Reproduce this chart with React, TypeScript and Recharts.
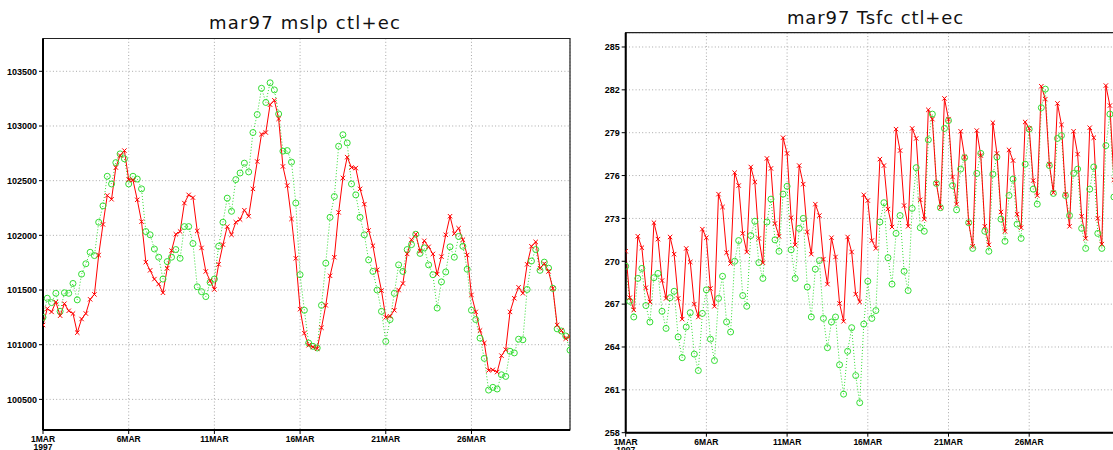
import React from 'react';
import { LineChart, Line, XAxis, YAxis, CartesianGrid, ReferenceArea } from 'recharts';

// 6-hourly steps, 1 MAR 00Z .. 31 MAR 18Z
const stepCount = 124;
const steps = Array.from({ length: stepCount }, (_, i) => i);

const dayTicks = [0, 20, 40, 60, 80, 100];
const dayTickLabels = ['1MAR', '6MAR', '11MAR', '16MAR', '21MAR', '26MAR'];
const yearLabel = '1997';

const titleLeft = 'mar97 mslp ctl+ec';
const titleRight = 'mar97 Tsfc ctl+ec';

const mslpTicks = [100500, 101000, 101500, 102000, 102500, 103000, 103500];
const mslpDomain = [100220, 103800];
const tsfcTicks = [258, 261, 264, 267, 270, 273, 276, 279, 282, 285];
const tsfcDomain = [258, 286];

const mslpCtl = [
  101180, 101330, 101300, 101390, 101265, 101375, 101310, 101285, 101110, 101235,
  101285, 101415, 101460, 101820, 102100, 102365, 102330, 102620, 102730, 102775,
  102510, 102505, 102325, 102125, 101755, 101680, 101600, 101555, 101475, 101700,
  101860, 102010, 102035, 102295, 102370, 102345, 102040, 101885, 101670, 101585,
  101505, 101735, 101915, 102080, 102005, 102120, 102145, 102230, 102175, 102425,
  102675, 102925, 102940, 103195, 103235, 103065, 102630, 102455, 102150, 101790,
  101325, 101105, 100995, 100980, 100965, 101155, 101360, 101630, 101800, 102210,
  102525, 102715, 102620, 102615, 102425, 102285, 102045, 101905, 101685, 101495,
  101250, 101260, 101315, 101500, 101560, 101830, 101960, 102010, 101855, 101950,
  101895, 101830, 101645, 101805, 102005, 102175, 102015, 102065, 101960, 101820,
  101455, 101300, 101130, 101015, 100765, 100770, 100750, 100900, 100955, 101300,
  101425, 101525, 101470, 101735, 101900, 101940, 101700, 101740, 101670, 101515,
  101180, 101130, 101055, 101075,
];

const mslpEc = [
  101250, 101425, 101385, 101470, 101305, 101475, 101470, 101560, 101410, 101645,
  101740, 101845, 101815, 102120, 102270, 102540, 102470, 102665, 102745, 102700,
  102470, 102540, 102515, 102425, 102035, 102005, 101875, 101800, 101600, 101760,
  101800, 101870, 101790, 102080, 102080, 101925, 101530, 101485, 101440, 101570,
  101600, 101900, 102120, 102340, 102220, 102510, 102570, 102660, 102580, 102940,
  103105, 103345, 103215, 103395, 103330, 103110, 102770, 102775, 102670, 102295,
  101640, 101315, 101015, 100985, 100970, 101360, 101745, 102165, 102355, 102815,
  102920, 102845, 102470, 102370, 102165, 102005, 101775, 101670, 101500, 101305,
  101030, 101230, 101470, 101730, 101670, 101870, 101915, 102010, 101835, 101885,
  101730, 101640, 101335, 101575, 101665, 101895, 101800, 101990, 101900, 101690,
  101315, 101230, 101060, 100875, 100585, 100610, 100595, 100725, 100710, 100940,
  100925, 101050, 101045, 101505, 101765, 101870, 101680, 101755, 101700, 101515,
  101145, 101125, 101080, 100950,
];

const tsfcCtl = [
  270.7, 267.45, 266.6, 271.75, 270.95, 268.15, 267.15, 272.7, 271.55, 268.65,
  267.4, 271.7, 270.5, 267.4, 265.95, 270.9, 269.95, 267.0, 266.1, 272.25,
  271.65, 268.1, 266.85, 274.7, 273.8, 270.6, 269.85, 276.2, 275.3, 271.95,
  270.65, 276.6, 275.55, 271.6, 269.9, 277.2, 276.5, 272.65, 271.75, 278.65,
  277.55, 273.05, 271.15, 276.7, 275.4, 272.05, 270.5, 274.0, 273.2, 270.15,
  268.4, 271.65, 270.3, 267.05, 265.8, 271.7, 270.65, 267.7, 267.15, 274.65,
  274.25, 271.45, 270.9, 277.15, 276.7, 273.65, 272.4, 279.25, 277.75, 273.9,
  272.45, 279.3, 278.6, 274.3, 272.95, 280.6, 279.95, 275.45, 273.75, 281.4,
  279.95, 275.9, 274.0, 279.1, 277.3, 272.7, 271.05, 279.15, 277.4, 272.45,
  271.15, 279.7, 277.55, 273.45, 272.1, 277.8, 277.05, 273.3, 272.35, 279.75,
  279.3, 275.65, 274.6, 282.25, 281.35, 276.8, 274.8, 281.05, 279.55, 274.7,
  272.45, 279.1, 277.5, 273.15, 271.6, 279.35, 278.65, 273.0, 271.2, 282.3,
  280.9, 275.7, 273.5, 278.0,
];

const tsfcEc = [
  269.65, 267.2, 266.1, 268.8, 269.5, 266.9, 265.75, 268.85, 269.15, 266.5,
  265.3, 267.45, 267.9, 264.7, 263.25, 265.4, 266.4, 263.5, 262.35, 266.35,
  268.0, 264.55, 263.05, 267.4, 268.95, 265.75, 265.05, 270.0, 271.45, 267.6,
  266.85, 271.8, 272.8, 269.9, 268.8, 272.75, 274.35, 271.5, 270.7, 274.7,
  275.25, 270.8, 268.8, 272.3, 273.0, 268.2, 266.1, 269.45, 270.05, 266.0,
  263.95, 265.75, 266.1, 262.75, 260.7, 263.7, 265.35, 262.0, 260.1, 265.6,
  268.6, 266.0, 266.55, 272.75, 274.1, 270.25, 268.4, 271.95, 273.2, 269.3,
  267.95, 273.7, 276.55, 272.35, 272.1, 278.5, 280.3, 275.45, 273.75, 279.3,
  279.85, 275.3, 273.6, 276.45, 277.25, 272.7, 270.9, 276.15, 277.55, 272.1,
  270.7, 276.1, 277.3, 272.95, 271.4, 274.6, 275.75, 272.6, 271.6, 276.8,
  279.25, 275.05, 274.0, 280.75, 282.05, 276.7, 274.75, 278.6, 278.8, 274.6,
  273.2, 276.15, 276.45, 272.3, 270.9, 275.05, 276.6, 271.95, 270.9, 278.1,
  280.3, 274.5, 273.0, 277.0,
];

const mslpData = steps.map((t, i) => ({ t, ctl: mslpCtl[i], ec: mslpEc[i] }));
const tsfcData = steps.map((t, i) => ({ t, ctl: tsfcCtl[i], ec: tsfcEc[i] }));

const RED = '#ff0000';
const GREEN = '#33dd33';
const GRID = '#a8a8a8';
const TICK_FONT = '"Liberation Sans", Arial, sans-serif';

const XDot = (props: any) => {
  const { cx, cy } = props;
  if (cx == null || cy == null) return null;
  const s = 2.2;
  return (
    <path
      d={`M${cx - s},${cy - s}L${cx + s},${cy + s}M${cx - s},${cy + s}L${cx + s},${cy - s}`}
      stroke={RED}
      strokeWidth={1}
      fill="none"
    />
  );
};

const ODot = (props: any) => {
  const { cx, cy } = props;
  if (cx == null || cy == null) return null;
  return <circle cx={cx} cy={cy} r={3} stroke={GREEN} strokeWidth={1} fill="none" />;
};

const YTick = (props: any) => {
  const { x, y, payload } = props;
  return (
    <text x={x} y={y} dy="0.36em" textAnchor="end" fontFamily={TICK_FONT} fontWeight="bold" fontSize={9} fill="#000">
      {payload.value}
    </text>
  );
};

const XTick = (props: any) => {
  const { x, y, payload } = props;
  const idx = dayTicks.indexOf(payload.value);
  return (
    <g>
      <text x={x} y={y} dy="0.72em" textAnchor="middle" fontFamily={TICK_FONT} fontWeight="bold" fontSize={8.5} fill="#000">
        {dayTickLabels[idx]}
      </text>
      {idx === 0 && (
        <text x={x} y={y + 8.3} dy="0.72em" textAnchor="middle" fontFamily={TICK_FONT} fontWeight="bold" fontSize={8.5} fill="#000">
          {yearLabel}
        </text>
      )}
    </g>
  );
};

function Panel(props: {
  data: any[];
  width: number;
  height: number;
  margin: any;
  yWidth: number;
  xHeight: number;
  yTicks: number[];
  yDomain: number[];
}) {
  const { data, width, height, margin, yWidth, xHeight, yTicks, yDomain } = props;
  return (
    <LineChart width={width} height={height} data={data} margin={margin}>
      <CartesianGrid stroke={GRID} strokeDasharray="1 2.3" />
      <XAxis
        dataKey="t"
        type="number"
        domain={[0, stepCount - 1]}
        ticks={dayTicks}
        height={xHeight}
        tickSize={4}
        tickMargin={2}
        tick={<XTick />}
        axisLine={{ stroke: '#000', strokeWidth: 2 }}
        tickLine={{ stroke: '#000' }}
        allowDataOverflow
      />
      <YAxis
        type="number"
        domain={yDomain}
        ticks={yTicks}
        width={yWidth}
        tickSize={4}
        tickMargin={2}
        tick={<YTick />}
        axisLine={{ stroke: '#000', strokeWidth: 2 }}
        tickLine={{ stroke: '#000' }}
        allowDataOverflow
      />
      <ReferenceArea
        x1={0}
        x2={stepCount - 1}
        y1={yDomain[0]}
        y2={yDomain[1]}
        fill="none"
        fillOpacity={0}
        stroke="#222"
        strokeWidth={1.2}
      />
      <Line
        type="linear"
        dataKey="ec"
        stroke={GREEN}
        strokeWidth={1}
        strokeDasharray="1 2"
        dot={ODot}
        activeDot={false}
        isAnimationActive={false}
      />
      <Line
        type="linear"
        dataKey="ctl"
        stroke={RED}
        strokeWidth={1}
        dot={XDot}
        activeDot={false}
        isAnimationActive={false}
      />
    </LineChart>
  );
}

export default function App() {
  return (
    <div
      style={{
        position: 'fixed',
        left: 0,
        top: 0,
        width: 1113,
        height: 450,
        overflow: 'hidden',
        background: '#fff',
      }}
    >
      <div style={{ position: 'absolute', left: 0, top: 0 }}>
        <Panel
          data={mslpData}
          width={580}
          height={450}
          margin={{ top: 38.5, right: 10, bottom: 0, left: 0 }}
          yWidth={43}
          xHeight={20}
          yTicks={mslpTicks}
          yDomain={mslpDomain}
        />
      </div>
      <div style={{ position: 'absolute', left: 580, top: 0 }}>
        <Panel
          data={tsfcData}
          width={550}
          height={450}
          margin={{ top: 32.7, right: 8, bottom: 0, left: 0 }}
          yWidth={45.7}
          xHeight={17.3}
          yTicks={tsfcTicks}
          yDomain={tsfcDomain}
        />
      </div>
      <svg
        width={1113}
        height={450}
        style={{ position: 'absolute', left: 0, top: 0, pointerEvents: 'none' }}
      >
        <text x={305} y={29} textAnchor="middle" fontFamily='"DejaVu Sans", sans-serif' fontSize={18} letterSpacing={1.2} fill="#111">
          {titleLeft}
        </text>
        <text x={875.5} y={24} textAnchor="middle" fontFamily='"DejaVu Sans", sans-serif' fontSize={18} letterSpacing={0.9} fill="#111">
          {titleRight}
        </text>
      </svg>
    </div>
  );
}
